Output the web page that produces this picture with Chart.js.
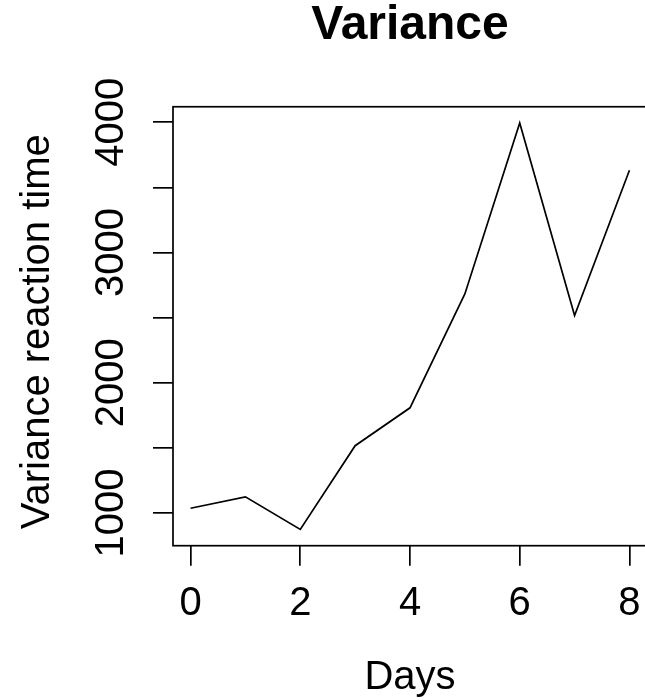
<!DOCTYPE html>
<html>
<head>
<meta charset="utf-8">
<title>Variance</title>
<script src="https://cdn.jsdelivr.net/npm/chart.js@4/dist/chart.umd.min.js"></script>
<style>
  html, body { margin: 0; padding: 0; overflow: hidden; background: #fff; }
  canvas { display: block; }
</style>
</head>
<body>
<canvas id="chart" width="647" height="700"></canvas>
<script>
var days = [0, 1, 2, 3, 4, 5, 6, 7, 8];
var variance = [1037, 1124, 874, 1517, 1808, 2682, 3995, 2516, 3632];

var xTicks = [0, 2, 4, 6, 8];
var xTickLabels = ["0", "2", "4", "6", "8"];
var yTicks = [1000, 1500, 2000, 2500, 3000, 3500, 4000];
var yTickLabels = ["1000", "", "2000", "", "3000", "", "4000"];

// R style axis limits: data range plus 4% on each side
var xPad = (Math.max.apply(null, days) - Math.min.apply(null, days)) * 0.04;
var yPad = (Math.max.apply(null, variance) - Math.min.apply(null, variance)) * 0.04;

Chart.defaults.font.family = "'Liberation Sans', Arial, Helvetica, sans-serif";
Chart.defaults.color = "#000";

// box round the plot region
var frame = {
  id: "frame",
  afterDraw: function (chart) {
    var a = chart.chartArea;
    var ctx = chart.ctx;
    ctx.save();
    ctx.strokeStyle = "#000";
    ctx.lineWidth = 1.7;
    ctx.strokeRect(a.left, a.top, a.right - a.left, a.bottom - a.top);
    ctx.restore();
  }
};

new Chart("chart", {
  type: "line",
  data: {
    datasets: [{
      data: days.map(function (d, i) { return { x: d, y: variance[i] }; }),
      borderColor: "#000",
      borderWidth: 1.7,
      pointRadius: 0,
      tension: 0,
      fill: false
    }]
  },
  options: {
    responsive: false,
    animation: false,
    layout: { padding: 0 },
    plugins: {
      legend: { display: false },
      tooltip: { enabled: false },
      title: {
        display: true,
        text: "Variance",
        fullSize: false,
        color: "#000",
        font: { size: 48, weight: "bold", lineHeight: 1.08 },
        padding: { top: 0, bottom: 54.9 }
      }
    },
    scales: {
      x: {
        type: "linear",
        min: Math.min.apply(null, days) - xPad,
        max: Math.max.apply(null, days) + xPad,
        afterBuildTicks: function (scale) {
          scale.ticks = xTicks.map(function (v) { return { value: v }; });
        },
        afterFit: function (scale) { scale.height = 154.3; },
        border: { display: false },
        grid: {
          drawOnChartArea: false,
          drawTicks: true,
          tickLength: 20,
          tickColor: "#000",
          lineWidth: 1.7
        },
        ticks: {
          autoSkip: false,
          maxRotation: 0,
          padding: 0,
          font: { size: 40, lineHeight: 1.9 },
          callback: function (value, index) { return xTickLabels[index]; }
        },
        title: {
          display: true,
          text: "Days",
          font: { size: 40, lineHeight: 1.1 },
          padding: { top: 0, bottom: 0 }
        }
      },
      y: {
        type: "linear",
        min: Math.min.apply(null, variance) - yPad,
        max: Math.max.apply(null, variance) + yPad,
        afterBuildTicks: function (scale) {
          scale.ticks = yTicks.map(function (v) { return { value: v }; });
        },
        afterFit: function (scale) { scale.width = 173; },
        border: { display: false },
        grid: {
          drawOnChartArea: false,
          drawTicks: true,
          tickLength: 20,
          tickColor: "#000",
          lineWidth: 1.7
        },
        ticks: {
          autoSkip: false,
          minRotation: 90,
          maxRotation: 90,
          crossAlign: "center",
          padding: -3.5,
          font: { size: 40 },
          callback: function (value, index) { return yTickLabels[index]; }
        },
        title: {
          display: true,
          text: "Variance reaction time ",
          font: { size: 40 },
          padding: { top: 14, bottom: 0 }
        }
      }
    }
  },
  plugins: [frame]
});
</script>
</body>
</html>
